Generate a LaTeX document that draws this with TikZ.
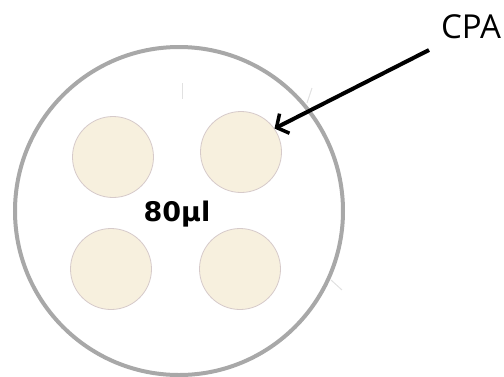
\documentclass[tikz,border=0pt]{standalone}
\usepackage{fontspec}
\setmainfont{Open Sans}
\newfontfamily\labelfont{DejaVu Sans}
\usetikzlibrary{arrows.meta}
\definecolor{ringgray}{RGB}{168,168,168}
\definecolor{dropfill}{RGB}{247,240,222}
\definecolor{dropedge}{RGB}{214,202,202}
\definecolor{faintline}{RGB}{225,225,225}
\tikzset{
  dish/.style={circle, draw=ringgray, line width=4pt, fill=white, minimum size=328pt, inner sep=0pt},
  drop/.style={circle, draw=dropedge, line width=0.8pt, fill=dropfill, minimum size=81pt, inner sep=0pt},
  pointer/.style={draw=black, line width=4pt, -{Straight Barb[length=9pt,width=22pt,line width=3.5pt]}},
  scratch/.style={draw=faintline, line width=1pt},
}
\begin{document}
\begin{tikzpicture}[x=1pt,y=-1pt]
  \useasboundingbox (0,0) rectangle (504,376);
  % outer dish
  \node[dish] (dish) at (179,211) {};
  % faint scratches on the dish
  \draw[scratch] (182,83) -- (182,99);
  \draw[scratch] (312,88) -- (307,103);
  \draw[scratch] (331,280) -- (342,290);
  % four droplets
  \node[drop] (d1) at (113,157) {};
  \node[drop] (d2) at (241,152) {};
  \node[drop] (d3) at (111,269) {};
  \node[drop] (d4) at (240,269) {};
  % volume label
  \node[font=\labelfont\bfseries\fontsize{27}{32}\selectfont, inner sep=0pt] (vol) at (177,214) {80µl};
  % CPA label and pointer
  \node[font=\fontsize{33}{39}\selectfont, inner sep=0pt, anchor=base] (cpa) at (471,38) {CPA};
  \coordinate (pstart) at (429,50);
  \draw[pointer] (pstart) -- (d2.35);
\end{tikzpicture}
\end{document}
